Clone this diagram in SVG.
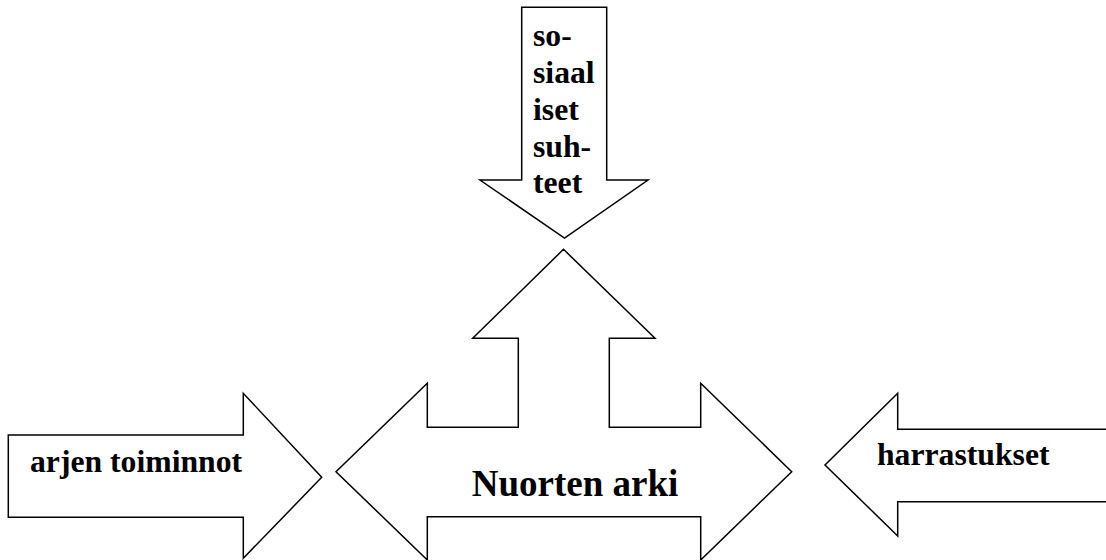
<svg xmlns="http://www.w3.org/2000/svg" width="1106" height="560" viewBox="0 0 1106 560">
<style>
.shape{fill:#fff;stroke:#000;stroke-width:1.5;stroke-linejoin:miter}
.lbl{font-family:"Liberation Serif","Times New Roman",serif;font-weight:bold;font-size:31.7px;fill:#000}
.big{font-size:37px}
</style>
<rect width="1106" height="560" fill="#fff"/>
<g id="connectors"></g>
<g id="node-sosiaaliset">
<polygon class="shape" points="521.7,7.3 606.7,7.3 606.7,180 648,180 564.5,238 480,180 521.7,180"/>
<text class="lbl" x="533" y="46">so-</text>
<text class="lbl" x="533" y="83">siaal</text>
<text class="lbl" x="533" y="120">iset</text>
<text class="lbl" x="533" y="156.5">suh-</text>
<text class="lbl" x="533" y="192.5">teet</text>
</g>
<g id="node-nuorten-arki">
<polygon class="shape" points="563.5,249.3 655,338.3 609.3,338.3 609.3,427.3 700.7,427.3 700.7,383.3 791.7,471.7 700.7,560 700.7,516.7 427.3,516.7 427.3,560 336,471.7 427.3,383.3 427.3,427.3 518.3,427.3 518.3,338.3 472.7,338.3"/>
<text class="lbl big" x="575" y="496" text-anchor="middle">Nuorten arki</text>
</g>
<g id="node-arjen-toiminnot">
<polygon class="shape" points="8.3,435 243.3,435 243.3,393.3 321.7,477.3 243.3,558.3 243.3,517.3 8.3,517.3"/>
<text class="lbl" x="30" y="471.5">arjen toiminnot</text>
</g>
<g id="node-harrastukset">
<polygon class="shape" points="1110,429.3 897.7,429.3 897.7,393.3 825,465 897.7,536 897.7,501.7 1110,501.7"/>
<text class="lbl" x="877" y="464.5">harrastukset</text>
</g>
</svg>
